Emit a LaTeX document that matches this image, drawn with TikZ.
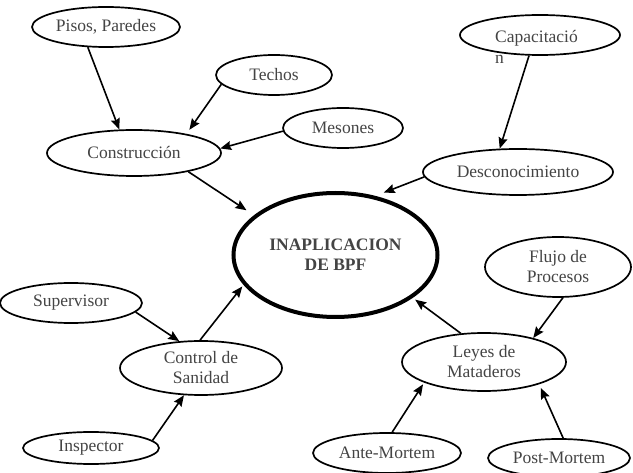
\documentclass[tikz,border=0pt]{standalone}
\usepackage{fontspec}
\setmainfont{Liberation Serif}
\usetikzlibrary{shapes.geometric,arrows.meta}
\definecolor{txt}{HTML}{444444}
\begin{document}
\begin{tikzpicture}[x=1pt,y=-1pt,
  bubble/.style={ellipse, draw, line width=1.7pt, inner sep=0pt, text=txt,
    font=\fontsize{17.5}{20}\selectfont, align=center},
  mainbubble/.style={bubble, line width=4pt, font=\fontsize{17.5}{20}\selectfont\bfseries},
  plain/.style={inner sep=0pt, text=txt, font=\fontsize{17.5}{20}\selectfont},
  conn/.style={line width=1.6pt, -{Stealth[length=11pt,width=9pt,inset=1.5pt]}}]
\useasboundingbox (0,0) rectangle (633,473);
\node[bubble, minimum width=148pt, minimum height=40pt] (pisos) at (106,27) {Pisos, Paredes};
\node[bubble, minimum width=116pt, minimum height=40pt] (techos) at (274,75) {Techos};
\node[bubble, minimum width=120pt, minimum height=40pt] (mesones) at (343,128) {Mesones};
\node[bubble, minimum width=174pt, minimum height=46pt] (cons) at (134,153) {Construcción};
\node[bubble, minimum width=160pt, minimum height=40pt] (cap) at (540,35) {};
\node[plain, anchor=base west] (capa) at (495,43) {Capacitació};
\node[plain, anchor=base west] (capb) at (495,64) {n};
\node[bubble, minimum width=190pt, minimum height=46pt] (desc) at (518,172) {Desconocimiento};
\node[mainbubble, minimum width=204pt, minimum height=124pt] (main) at (335.5,255) {INAPLICACION\\DE BPF};
\node[bubble, minimum width=142pt, minimum height=40pt] (sup) at (71,303) {Supervisor};
\node[bubble, minimum width=162pt, minimum height=54pt] (ctrl) at (201,368) {Control de\\Sanidad};
\node[bubble, minimum width=136pt, minimum height=32pt] (insp) at (91,448) {Inspector};
\node[bubble, minimum width=146pt, minimum height=60pt] (flujo) at (558,267) {Flujo de\\Procesos};
\node[bubble, minimum width=164pt, minimum height=58pt] (leyes) at (484,362) {Leyes de\\Mataderos};
\node[bubble, minimum width=148pt, minimum height=40pt] (ante) at (387,453) {Ante-Mortem};
\node[bubble, minimum width=142pt, minimum height=38pt] (post) at (559,458) {Post-Mortem};

\draw[conn] (pisos.-132) -- (cons.122.6);
\draw[conn, shorten >=5pt] (techos.190) -- (cons.20);
\draw[conn] (mesones.183) -- (cons.3);
\draw[conn, shorten >=9pt] (cons.-19) -- (main.154.5);
\draw[conn] (cap.-118) -- (desc.128);
\draw[conn, shorten >=9pt] (desc.183.6) -- (main.56);
\draw[conn] (sup.-8.4) -- (ctrl.129);
\draw[conn, shorten >=2pt] (ctrl.92) -- (main.198.7);
\draw[conn] (insp.7.5) -- (ctrl.-122.6);
\draw[conn] (flujo.-81) -- (leyes.26.6);
\draw[conn, shorten >=3pt] (leyes.129.6) -- (main.-29);
\draw[conn, shorten >=2pt] (ante.76.6) -- (leyes.199.3);
\draw[conn, shorten >=4pt] (post.78.7) -- (leyes.-22.9);
\end{tikzpicture}
\end{document}
